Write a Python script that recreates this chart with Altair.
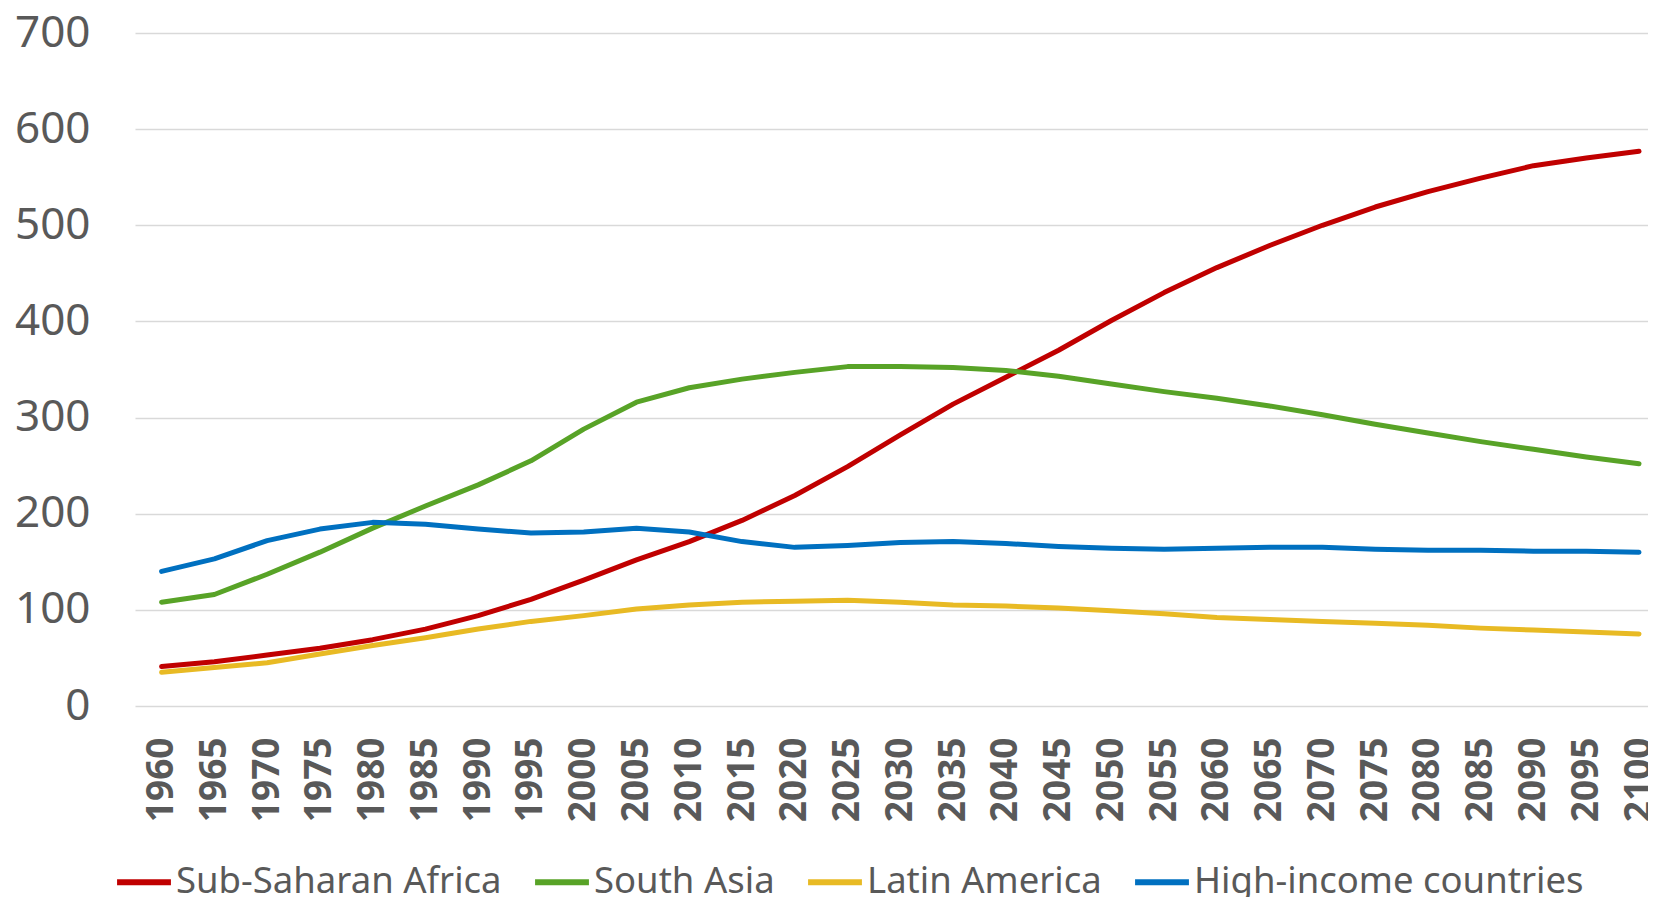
import altair as alt
import pandas as pd

years = list(range(1960, 2101, 5))

sub_saharan_africa = [41, 46, 53, 60, 69, 80, 94, 111, 131, 152, 171, 193, 219, 249, 282,
                      314, 342, 370, 401, 430, 456, 479, 500, 519, 535, 549, 562, 570, 577]
south_asia = [108, 116, 137, 160, 185, 208, 230, 255, 288, 316, 331, 340, 347, 353, 353,
              352, 349, 343, 335, 327, 320, 312, 303, 293, 284, 275, 267, 259, 252]
latin_america = [35, 40, 45, 54, 63, 71, 80, 88, 94, 101, 105, 108, 109, 110, 108,
                 105, 104, 102, 99, 96, 92, 90, 88, 86, 84, 81, 79, 77, 75]
high_income = [140, 153, 172, 184, 191, 189, 184, 180, 181, 185, 181, 171, 165, 167, 170,
               171, 169, 166, 164, 163, 164, 165, 165, 163, 162, 162, 161, 161, 160]

series_names = ["Sub-Saharan Africa", "South Asia", "Latin America", "High-income countries"]
series_colors = ["#C00000", "#58A327", "#E8BA24", "#0070C0"]
series_values = [sub_saharan_africa, south_asia, latin_america, high_income]

rows = []
for name, vals in zip(series_names, series_values):
    for y, v in zip(years, vals):
        rows.append({"year": y, "value": v, "series": name})
df = pd.DataFrame(rows)

text_color = "#595959"
font = "Noto Sans"

chart = alt.Chart(df).mark_line(strokeWidth=5, strokeCap="round", strokeJoin="round").encode(
    x=alt.X("year:Q",
            scale=alt.Scale(domain=[1957.48, 2100.85], nice=False, zero=False),
            axis=alt.Axis(values=years, format="d", labelAngle=270, labelFontSize=37,
                          labelFontWeight="bold", labelFont=font, labelColor=text_color,
                          labelPadding=31, grid=False, domain=False, ticks=False,
                          title=None, labelOverlap=False, labelBound=False, labelFlush=False)),
    y=alt.Y("value:Q",
            scale=alt.Scale(domain=[0, 700], nice=False),
            axis=alt.Axis(values=[0, 100, 200, 300, 400, 500, 600, 700], labelFontSize=44,
                          labelFont=font, labelColor=text_color, labelPadding=45,
                          domain=False, ticks=False, grid=True, gridColor="#D9D9D9",
                          gridWidth=1.5, title=None)),
    color=alt.Color("series:N",
                    scale=alt.Scale(domain=series_names, range=series_colors),
                    sort=series_names,
                    legend=alt.Legend(orient="none", legendX=-21, legendY=819,
                                      direction="horizontal", title=None,
                                      symbolType="stroke", symbolStrokeWidth=6,
                                      symbolSize=2900, labelFontSize=36.5, labelFont=font,
                                      labelColor=text_color, labelOffset=2,
                                      columnPadding=21, padding=0, labelLimit=0)),
    order=alt.Order("series:N"),
).properties(
    width=1513,
    height=673,
    padding={"left": 127, "top": 25, "right": 0, "bottom": 191},
    autosize=alt.AutoSizeParams(type="none"),
).configure_view(stroke=None)

chart.save("out.html", embed_options={"renderer": "svg", "actions": False})
